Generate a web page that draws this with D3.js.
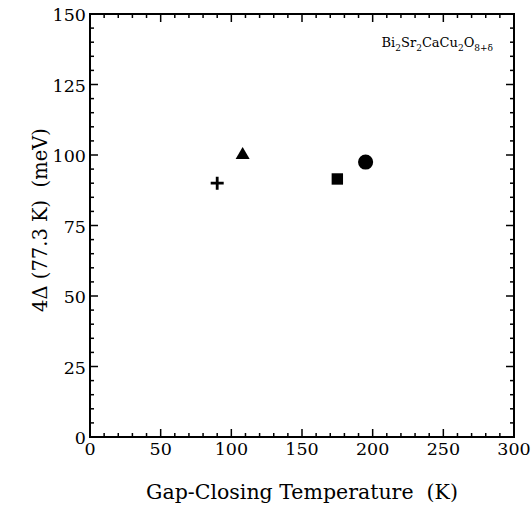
<!DOCTYPE html>
<html>
<head>
<meta charset="utf-8">
<script src="https://cdn.jsdelivr.net/npm/d3@7"></script>
<style>
  body { margin: 0; background: #fff; }
</style>
</head>
<body>
<div id="chart"></div>
<script>
// data
var points_x = [90, 108, 175, 195];          // gap-closing temperature (K)
var points_y = [90, 100, 91.5, 97.5];        // 4 delta at 77.3 K (meV)
var point_shapes = ["plus", "triangle", "square", "circle"];

var x_ticks = [0, 50, 100, 150, 200, 250, 300];
var y_ticks = [0, 25, 50, 75, 100, 125, 150];

var width = 532, height = 510;
var margin = { left: 90, right: 18, top: 14, bottom: 73 };
// Liberation Serif is not picked up here, DejaVu Serif is
var serif = "'DejaVu Serif', 'Liberation Serif', serif";

var svg = d3.select("#chart").append("svg")
    .attr("width", width)
    .attr("height", height)
    .attr("font-family", serif);

var x = d3.scaleLinear().domain([0, 300])
    .range([margin.left, width - margin.right]);
var y = d3.scaleLinear().domain([0, 150])
    .range([height - margin.bottom, margin.top]);

var x_minor = d3.range(0, 301, 10);
var y_minor = d3.range(0, 151, 5);

var fsize = 17.5;

// ticks pointing in, on every side
var major = 8, minor = 4;
function ticklen(v, step) { return v % step === 0 ? major : minor; }

var g = svg.append("g");

// bottom & top
g.append("g").selectAll("line")
    .data(x_minor).enter().append("line")
    .attr("x1", function(d){ return x(d); })
    .attr("x2", function(d){ return x(d); })
    .attr("y1", y(0))
    .attr("y2", function(d){ return y(0) - ticklen(d, 50); })
    .attr("stroke", "#000").attr("stroke-width", 1.5);
g.append("g").selectAll("line")
    .data(x_minor).enter().append("line")
    .attr("x1", function(d){ return x(d); })
    .attr("x2", function(d){ return x(d); })
    .attr("y1", y(150))
    .attr("y2", function(d){ return y(150) + ticklen(d, 50); })
    .attr("stroke", "#000").attr("stroke-width", 1.5);
// left & right
g.append("g").selectAll("line")
    .data(y_minor).enter().append("line")
    .attr("y1", function(d){ return y(d); })
    .attr("y2", function(d){ return y(d); })
    .attr("x1", x(0))
    .attr("x2", function(d){ return x(0) + ticklen(d, 25); })
    .attr("stroke", "#000").attr("stroke-width", 1.5);
g.append("g").selectAll("line")
    .data(y_minor).enter().append("line")
    .attr("y1", function(d){ return y(d); })
    .attr("y2", function(d){ return y(d); })
    .attr("x1", x(300))
    .attr("x2", function(d){ return x(300) - ticklen(d, 25); })
    .attr("stroke", "#000").attr("stroke-width", 1.5);

// frame
g.append("rect")
    .attr("x", x(0)).attr("y", y(150))
    .attr("width", x(300) - x(0))
    .attr("height", y(0) - y(150))
    .attr("fill", "none")
    .attr("stroke", "#000")
    .attr("stroke-width", 2);

// tick labels
g.append("g").selectAll("text")
    .data(x_ticks).enter().append("text")
    .attr("x", function(d){ return x(d); })
    .attr("y", y(0) + 18)
    .attr("text-anchor", "middle")
    .attr("font-size", fsize)
    .text(function(d){ return d; });

g.append("g").selectAll("text")
    .data(y_ticks).enter().append("text")
    .attr("x", x(0) - 4)
    .attr("y", function(d){ return y(d) + 7; })
    .attr("text-anchor", "end")
    .attr("font-size", fsize)
    .text(function(d){ return d; });

// axis titles
svg.append("text")
    .attr("x", (x(0) + x(300)) / 2)
    .attr("y", 499)
    .attr("text-anchor", "middle")
    .attr("font-size", 20.5)
    .style("white-space", "pre")
    .text("Gap-Closing Temperature  (K)");

svg.append("text")
    .attr("transform", "translate(47," + 220 + ") rotate(-90)")
    .attr("text-anchor", "middle")
    .attr("font-size", 19.5)
    .style("white-space", "pre")
    .text("4\u0394 (77.3 K)  (meV)");

// compound label
var lab = svg.append("text")
    .attr("x", x(300) - 21)
    .attr("y", 47)
    .attr("text-anchor", "end")
    .attr("font-size", 13);
var parts = [["Bi", 0], ["2", 1], ["Sr", 0], ["2", 1], ["CaCu", 0], ["2", 1], ["O", 0], ["8+\u03b4", 1]];
var prev = 0;
parts.forEach(function(p){
    var shift = p[1] ? 3.5 : 0;
    lab.append("tspan")
        .attr("dy", shift - prev)
        .attr("font-size", p[1] ? 9 : 13)
        .text(p[0]);
    prev = shift;
});

// points
var pts = points_x.map(function(v, i){
    return { x: v, y: points_y[i], shape: point_shapes[i] };
});

var sym = {
    triangle: d3.symbol().type(d3.symbolTriangle).size(85),
    square: d3.symbol().type(d3.symbolSquare).size(130),
    circle: d3.symbol().type(d3.symbolCircle).size(180)
};

var mk = svg.append("g").selectAll("g")
    .data(pts).enter().append("g")
    .attr("transform", function(d){
        return "translate(" + x(d.x) + "," + y(d.y) + ")";
    });

mk.each(function(d){
    var s = d3.select(this);
    if (d.shape === "plus") {
        s.append("path")
            .attr("d", "M-6.5,0H6.5M0,-6.5V6.5")
            .attr("stroke", "#000")
            .attr("stroke-width", 2.8)
            .attr("fill", "none");
    } else {
        s.append("path")
            .attr("d", sym[d.shape]())
            .attr("fill", "#000");
    }
});
</script>
</body>
</html>
